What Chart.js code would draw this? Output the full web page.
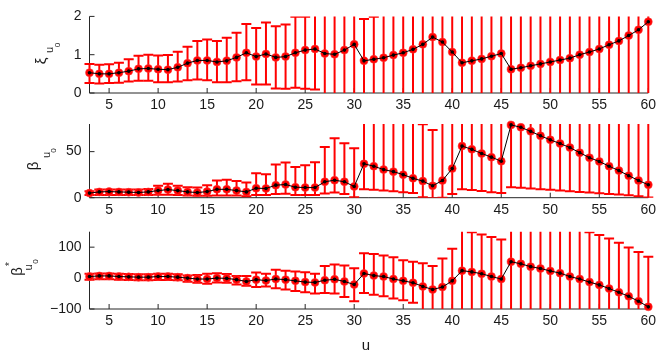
<!DOCTYPE html>
<html><head><meta charset="utf-8">
<script src="https://cdn.jsdelivr.net/npm/chart.js@4"></script>
<style>
html,body{margin:0;padding:0;background:#fff;}
#wrap{position:relative;width:664px;height:350px;overflow:hidden;background:#fff;}
canvas{position:absolute;left:0;top:0;}
</style></head><body>
<div id="wrap">
<canvas id="c1" width="664" height="350"></canvas>
<canvas id="c2" width="664" height="350"></canvas>
<canvas id="c3" width="664" height="350"></canvas>
</div>
<script>
// ---- data ----
const u = [3,4,5,6,7,8,9,10,11,12,13,14,15,16,17,18,19,20,21,22,23,24,25,26,27,28,29,30,31,32,33,34,35,36,37,38,39,40,41,42,43,44,45,46,47,48,49,50,51,52,53,54,55,56,57,58,59,60];
const xTicks = [5,10,15,20,25,30,35,40,45,50,55,60];

const xi   = [0.53,0.50,0.50,0.53,0.57,0.63,0.64,0.62,0.61,0.67,0.78,0.85,0.85,0.81,0.84,0.93,1.05,0.95,1.02,0.93,0.95,1.05,1.12,1.15,1.03,1.01,1.12,1.27,0.84,0.88,0.92,0.99,1.05,1.14,1.27,1.46,1.33,1.07,0.79,0.84,0.89,0.96,1.03,0.62,0.66,0.71,0.76,0.81,0.86,0.91,1.00,1.07,1.15,1.26,1.36,1.50,1.65,1.86];
const xiLo = [0.26,0.25,0.26,0.27,0.30,0.32,0.32,0.28,0.28,0.30,0.33,0.35,0.33,0.28,0.28,0.31,0.33,0.22,0.22,0.12,0.11,0.14,0.11,0.09,-0.5,-0.5,-0.5,-0.5,-0.5,-0.5,-0.5,-0.5,-0.5,-0.5,-0.5,-0.5,-0.5,-0.5,-0.5,-0.5,-0.5,-0.5,-0.5,-0.5,-0.5,-0.5,-0.5,-0.5,-0.5,-0.5,-0.5,-0.5,-0.5,-0.5,-0.5,-0.5,-0.5,-0.5];
const xiHi = [0.76,0.74,0.75,0.79,0.88,0.97,1.00,0.98,0.99,1.08,1.21,1.36,1.40,1.36,1.44,1.57,1.80,1.70,1.84,1.74,1.79,1.99,1.99,2.5,2.5,2.5,2.5,2.5,1.93,1.99,2.5,2.5,2.5,2.5,2.5,2.5,2.5,2.5,2.5,2.5,2.5,2.5,2.5,2.5,2.5,2.5,2.5,2.5,2.5,2.5,2.5,2.5,2.5,2.5,2.5,2.5,2.5,2.5];
const xiTicks = [0,1,2];

const beta   = [5,6.3,6.6,6.3,6,5.7,6.3,7.7,8.8,7.7,6.3,5.6,6.6,9.1,9.1,7.7,6.3,10.3,10,13.6,14.3,11.4,11,11,17.3,19,17.3,12.2,36.8,34.2,30.5,28.3,25,21,18,12.9,18.7,31.6,56,52.5,48,44,39.6,79,76.4,72,67.2,62.8,58.8,54.4,48.9,43.4,39.3,34.2,29.4,23.9,18.7,14];
const betaLo = [3,3,3,3,3,2.8,3,3.3,3.3,2.8,2.5,2.2,2.2,2.5,2.5,2.5,1.5,3,3,4,4.3,3,2.8,2.8,4.6,5.7,4,0.4,9.2,8.6,7.8,7,5.8,5,0.5,-0.5,0,4,9.2,8.4,7.2,6,5,11.4,10.7,10,9.2,8.5,7.8,7,6.3,5.6,4.8,4.1,3.4,2.7,1.5,0.1];
const betaHi = [7,9,9,9,9,9,9.5,12.9,15.1,12.9,11.4,11,13.6,18.7,19.5,18,16.5,26.5,25.4,36,38.2,33.4,35.2,38.5,55,64.6,59,53.6,95,95,95,95,95,95,79.8,73.4,95,95,95,95,95,95,95,95,95,95,95,95,95,95,95,95,95,95,95,95,95,95];
const betaTicks = [0,50];

const bstar   = [5,7,7,5,4,3,3,5,5,3,0,-3,-3,0,-1,-5,-11,-5,-8,-3,-5,-9,-13,-14,-7,-4,-11,-21,15,8,5,-3,-9,-15,-27,-37,-29,-9,24,20,14,5,-3,53,46,37,31,23,16,5,-3,-13,-22,-34,-46,-59,-75,-93];
const bstarLo = [-5,-4,-4,-5,-6,-7,-7,-6,-6,-7,-12,-15,-18,-14,-15,-21,-25,-29,-27,-33,-37,-42,-46,-50,-48,-50,-61,-75,-48,-54,-59,-66,-72,-80,-120,-120,-120,-120,-120,-120,-120,-120,-120,-120,-120,-120,-120,-120,-120,-120,-120,-120,-120,-120,-120,-120,-120,-120];
const bstarHi = [14,15,15,14,13,12,12,14,14,12,8,10,14,16,13,7,7,18,14,27,24,21,19,14,39,44,41,32,80,78,73,67,58,53,48,39,63,95,170,148,141,133,125,170,170,170,170,170,170,170,170,148,139,128,114,99,84,69];
const bstarTicks = [-100,0,100];

// ---- drawing helpers ----
const FONT = '"Liberation Sans", Arial, Helvetica, sans-serif';
const INK = '#1a1a1a';

const errPlugin = {
  id: 'errbars',
  beforeDatasetsDraw(chart) {
    const cfg = chart.options.plugins.errbars;
    const {ctx, chartArea: a, scales: {x, y}} = chart;
    ctx.save();
    ctx.strokeStyle = '#262626';
    ctx.lineWidth = 1;
    ctx.beginPath();
    ctx.moveTo(a.left, a.top); ctx.lineTo(a.left, a.bottom); ctx.lineTo(a.right, a.bottom);
    x.ticks.forEach(t => { const px = x.getPixelForValue(t.value); ctx.moveTo(px, a.bottom); ctx.lineTo(px, a.bottom - 5); });
    y.ticks.forEach(t => { const py = y.getPixelForValue(t.value); ctx.moveTo(a.left, py); ctx.lineTo(a.left + 5, py); });
    ctx.stroke();
    ctx.beginPath();
    ctx.rect(0, a.top, chart.width, a.bottom - a.top);
    ctx.clip();
    ctx.strokeStyle = '#ff0000';
    ctx.lineWidth = 2;
    for (let i = 0; i < u.length; i++) {
      const px = x.getPixelForValue(u[i]);
      const lo = y.getPixelForValue(cfg.lo[i]);
      const hi = y.getPixelForValue(cfg.hi[i]);
      ctx.beginPath();
      ctx.moveTo(px, lo); ctx.lineTo(px, hi);
      ctx.moveTo(px - 5, lo); ctx.lineTo(px + 5, lo);
      ctx.moveTo(px - 5, hi); ctx.lineTo(px + 5, hi);
      ctx.stroke();
    }
    ctx.restore();
  },
  afterDraw(chart) {
    const cfg = chart.options.plugins.errbars;
    const ctx = chart.ctx;
    ctx.save();
    ctx.fillStyle = INK;
    (cfg.title || []).forEach(p => {
      ctx.save();
      ctx.translate(p.cx, p.cy);
      if (p.rot) ctx.rotate(-Math.PI / 2);
      ctx.font = p.size + 'px ' + FONT;
      ctx.textAlign = 'center';
      ctx.textBaseline = 'middle';
      ctx.fillText(p.t, 0, 0);
      ctx.restore();
    });
    ctx.restore();
  }
};

function makeChart(id, vals, lo, hi, yMin, yMax, yTicks, top, bottom, title) {
  const pts = u.map((v, i) => ({x: v, y: vals[i]}));
  return new Chart(document.getElementById(id), {
    type: 'line',
    data: {
      datasets: [
        {data: pts, order: 1, borderColor: '#000', borderWidth: 1, pointRadius: 1.8,
         pointBackgroundColor: '#000', pointBorderWidth: 0, pointHoverRadius: 1.8, clip: false, tension: 0},
        {data: pts, order: 2, showLine: false, pointRadius: 4, pointBackgroundColor: '#ff0000',
         pointBorderColor: 'rgba(255,60,60,0.55)', pointBorderWidth: 1, clip: false}
      ]
    },
    options: {
      responsive: false, animation: false, devicePixelRatio: 1,
      events: [],
      layout: {padding: {left: 0, right: 664 - 648.3, top: top, bottom: 350 - bottom - 22}},
      plugins: {legend: {display: false}, tooltip: {enabled: false},
        errbars: {lo: lo, hi: hi, title: title}},
      scales: {
        x: {type: 'linear', min: 3, max: 60,
            grid: {display: false, drawTicks: false}, border: {display: false},
            afterBuildTicks: s => { s.ticks = xTicks.map(v => ({value: v})); },
            afterFit: s => { s.height = 22; },
            ticks: {padding: 4, color: INK, font: {family: FONT, size: 14}, maxRotation: 0, autoSkip: false}},
        y: {type: 'linear', min: yMin, max: yMax,
            grid: {display: false, drawTicks: false}, border: {display: false},
            afterBuildTicks: s => { s.ticks = yTicks.map(v => ({value: v})); },
            afterFit: s => { s.width = 89.5; },
            ticks: {padding: 8, color: INK, font: {family: FONT, size: 14},
                    callback: v => (v < 0 ? '\u2212' + Math.abs(v) : String(v))}}
      }
    },
    plugins: [errPlugin]
  });
}

makeChart('c1', xi, xiLo, xiHi, 0, 2, xiTicks, 15, 93, [
  {t: '\u03be', size: 15, cx: 41.5, cy: 61, rot: true},
  {t: 'u', size: 11, cx: 49.5, cy: 50, rot: true},
  {t: '0', size: 8, cx: 58, cy: 45, rot: true}
]);
makeChart('c2', beta, betaLo, betaHi, 0, 80, betaTicks, 124, 197.7, [
  {t: '\u03b2', size: 15, cx: 33.5, cy: 166, rot: true},
  {t: 'u', size: 11, cx: 46.5, cy: 155, rot: true},
  {t: '0', size: 8, cx: 54, cy: 150.5, rot: true}
]);
makeChart('c3', bstar, bstarLo, bstarHi, -100, 150, bstarTicks, 231.7, 309, [
  {t: '\u03b2', size: 15, cx: 17.5, cy: 271.5, rot: true},
  {t: '*', size: 10, cx: 10, cy: 264, rot: true},
  {t: 'u', size: 11, cx: 28.5, cy: 267.5, rot: true},
  {t: '0', size: 8, cx: 35.5, cy: 261.5, rot: true},
  {t: 'u', size: 15, cx: 366, cy: 346, rot: false},
  {t: '0', size: 10, cx: 375, cy: 356, rot: false}
]);
</script>
</body></html>
